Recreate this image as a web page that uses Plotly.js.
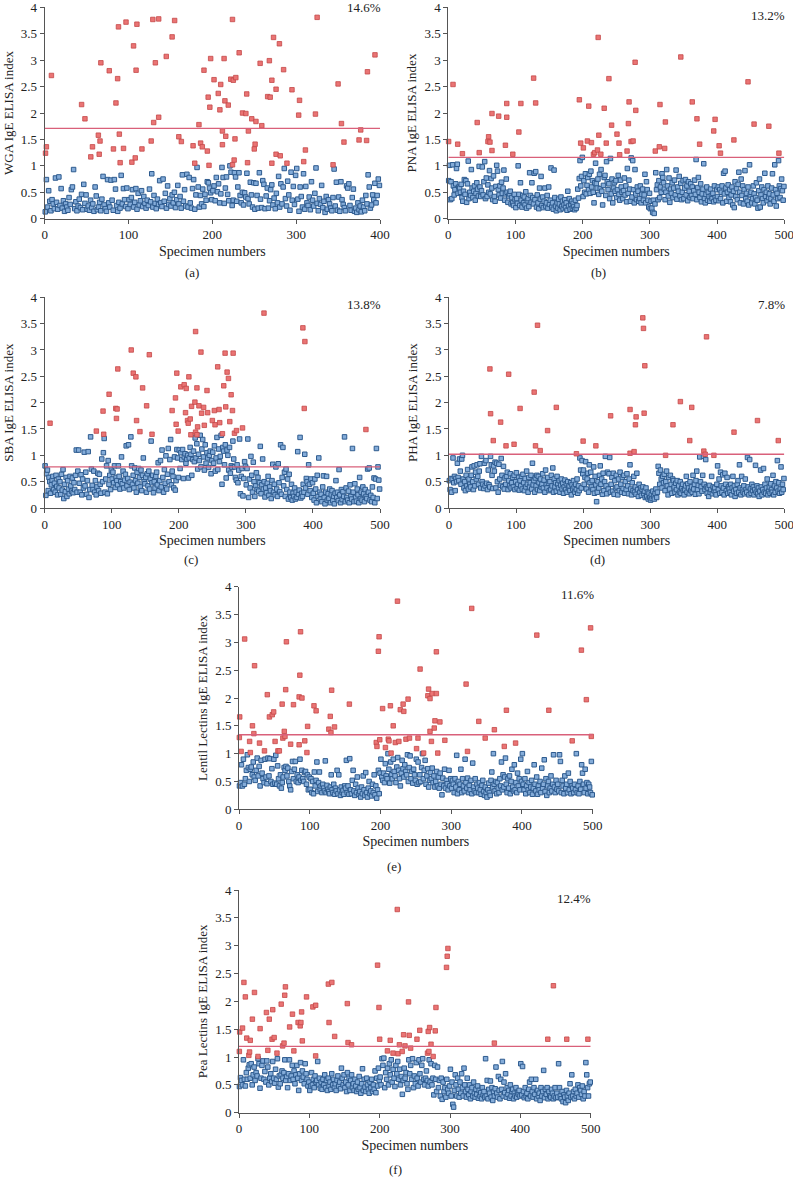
<!DOCTYPE html>
<html>
<head>
<meta charset="utf-8">
<script src="https://cdn.plot.ly/plotly-3.0.1.min.js"></script>
<style>html,body{margin:0;padding:0;background:#fff;}#chart{width:793px;height:1187px;}</style>
</head>
<body>
<div id="chart"></div>
<script>
// ---------------- DATA ----------------
// Thresholds (cut-off lines)
const thresholds = {a:1.71, b:1.16, c:0.78, d:1.02, e:1.34, f:1.19};
const percents = {a:'14.6%', b:'13.2%', c:'13.8%', d:'7.8%', e:'11.6%', f:'12.4%'};
const yTitles = {a:'WGA IgE ELISA index', b:'PNA IgE ELISA index', c:'SBA IgE ELISA index', d:'PHA IgE ELISA index', e:'Lentil Lectins IgE ELISA index', f:'Pea Lectins IgE ELISA index'};
const specimenCount = {a:400, b:500, c:500, d:500, e:500, f:500};
const xTickVals = {a:[0,100,200,300,400], b:[0,100,200,300,400,500], c:[0,100,200,300,400,500], d:[0,100,200,300,400,500], e:[0,100,200,300,400,500], f:[0,100,200,300,400,500]};
const yTickVals = [0,0.5,1,1.5,2,2.5,3,3.5,4];
const yTickText = ['0','0.5','1','1.5','2','2.5','3','3.5','4'];

// Red (high) specimens: specimen numbers and index values
const aRedX = [1,2,8,44,48,55,57,64,65,66,67,77,82,85,87,88,89,90,94,97,104,106,108,109,110,116,127,129,130,132,136,136,145,152,155,160,163,177,179,184,186,188,190,194,195,196,197,198,202,207,209,210,212,212,214,215,216,219,222,224,225,224,226,227,228,232,236,240,241,242,243,247,250,251,252,257,259,266,268,269,271,271,273,276,276,280,281,285,289,295,303,304,309,311,323,325,344,350,354,357,375,377,384,385,394];
const aRedY = [1.24,1.36,2.71,2.16,1.89,1.17,1.36,1.58,1.22,1.47,2.95,2.80,1.32,2.19,2.65,3.63,1.60,1.06,1.33,3.72,1.07,3.27,1.15,2.81,3.68,1.32,1.47,3.77,1.82,2.95,3.78,1.92,3.07,3.44,3.75,1.55,1.46,1.38,1.05,1.78,1.43,1.36,2.81,1.28,2.30,1.01,2.11,3.03,2.63,2.37,2.06,2.54,1.66,1.40,3.03,2.23,1.56,2.15,2.64,3.77,2.62,1.02,1.11,1.51,2.67,3.14,2.00,1.99,2.36,1.06,1.66,1.89,1.32,1.41,1.84,2.94,1.76,2.31,2.99,2.30,2.62,1.05,3.43,1.22,2.45,3.31,1.19,2.82,1.05,2.44,1.96,2.24,1.08,1.30,1.98,3.81,1.02,2.55,1.80,1.45,1.49,1.68,1.48,2.78,3.10];

const bRedX = [0.5,7,14,21,43,46,60,59,62,65,65,75,85,87,87,96,105,108,127,130,195,197,201,207,209,213,216,218,222,223,224,227,232,235,239,243,251,254,255,266,268,269,272,275,279,278,308,314,315,323,322,346,363,370,374,395,397,403,405,425,446,455,477,492];
const bRedY = [1.46,2.54,1.41,1.23,1.82,1.25,1.55,1.46,1.45,1.29,1.99,1.94,1.39,2.18,1.92,1.22,1.64,2.18,2.66,2.19,2.25,1.43,1.34,1.47,2.13,1.44,1.22,1.25,1.30,3.43,1.58,1.22,2.09,1.43,2.65,1.77,1.60,1.43,1.21,1.28,1.80,2.21,1.46,1.47,2.05,2.96,1.28,1.36,2.16,1.83,1.33,3.06,2.21,1.89,1.41,1.66,1.88,1.38,1.24,1.49,2.59,1.79,1.75,1.24];

const cRedX = [8,77,87,88,96,106,107,108,109,129,132,136,137,142,146,152,156,160,190,195,196,197,199,203,208,210,211,213,214,215,217,218,219,224,225,225,227,228,227,230,233,234,237,242,243,238,250,253,254,258,260,261,265,267,269,270,272,274,276,278,280,281,283,286,295,327,385,388,387,479];
const cRedY = [1.61,1.46,1.84,1.40,2.16,1.89,1.70,1.88,2.64,3.00,2.56,2.49,1.66,1.45,2.28,1.94,2.91,1.40,1.85,2.09,1.59,2.56,1.46,2.30,2.34,1.81,2.27,1.66,1.61,2.49,1.69,1.39,1.93,2.01,3.35,1.44,2.28,1.54,1.39,1.94,2.96,1.80,1.91,2.23,1.81,1.57,1.66,1.85,1.58,2.68,1.87,1.62,1.41,2.32,2.94,1.92,2.58,2.46,1.64,2.15,1.85,2.94,1.42,1.47,1.52,3.70,3.42,3.16,1.89,1.49];

const dRedX = [61,62,66,77,85,89,97,106,127,129,132,136,147,160,190,200,219,241,270,270,276,279,278,289,290,291,292,323,334,345,359,362,380,384,382,395,425,460,491];
const dRedY = [2.64,1.79,1.28,1.63,1.18,2.54,1.21,1.89,2.20,1.18,3.47,1.09,1.47,1.91,1.03,1.27,1.18,1.75,1.87,1.04,1.07,1.73,1.58,3.61,3.41,1.80,2.70,1.00,1.58,2.02,1.28,1.91,1.08,3.25,1.02,1.00,1.44,1.66,1.28];

const eRedX = [0.5,1,3,8,15,16,19,21,22,29,36,40,43,47,49,51,55,57,61,62,64,65,66,67,73,77,85,85,86,89,87,93,96,97,106,109,127,129,130,131,135,156,194,195,197,198,199,203,207,211,212,214,215,218,221,224,226,228,232,233,236,239,241,251,253,256,261,267,268,270,270,272,273,276,277,279,279,281,284,291,321,323,329,339,348,361,375,378,391,421,438,471,484,491,497,498];
const eRedY = [1.29,1.66,1.04,3.06,1.22,1.02,1.50,1.36,2.58,1.19,1.05,2.06,1.66,1.70,1.75,1.22,1.05,1.05,1.89,1.28,1.40,1.31,2.15,3.01,1.17,1.88,1.16,2.02,2.41,2.00,3.19,1.23,1.02,1.49,1.86,1.77,1.44,1.67,1.38,2.14,1.48,1.89,1.20,1.13,2.84,3.10,1.25,1.81,1.11,1.26,1.23,1.86,1.01,1.50,1.20,3.74,1.22,1.79,1.89,1.76,1.26,1.98,1.28,1.09,1.28,2.52,1.01,2.04,2.16,1.99,1.40,1.22,2.08,1.46,1.59,2.08,2.83,1.01,1.57,1.24,2.25,1.04,3.61,1.58,1.28,1.43,1.13,1.78,1.19,3.13,1.78,1.23,2.86,1.97,3.26,1.31];

const fRedX = [0.5,1,5,7,9,11,14,15,16,19,22,27,30,39,41,43,47,48,50,54,60,62,64,65,66,72,76,78,84,87,88,89,90,96,105,109,109,127,128,132,136,154,155,160,197,199,200,211,215,219,225,226,228,232,234,236,241,242,244,253,257,268,269,271,270,273,276,279,280,295,296,297,363,439,447,466,496];
const fRedY = [1.10,1.45,1.52,2.34,2.08,1.34,1.03,1.09,1.30,1.68,2.16,1.01,1.51,1.80,1.12,1.68,1.32,1.85,1.35,1.07,1.95,1.20,1.25,2.11,2.26,1.54,1.77,1.11,1.62,1.56,1.62,1.81,1.29,2.08,1.90,1.93,1.02,2.31,1.62,2.34,1.37,1.96,1.26,1.22,2.65,1.89,1.32,1.11,1.30,1.07,3.65,1.06,1.22,1.10,1.40,1.20,1.99,1.39,1.16,1.32,1.48,1.07,1.46,1.53,1.10,1.23,1.01,1.47,1.89,2.61,2.81,2.95,1.25,1.32,2.28,1.32,1.32];

// Blue (low) specimens: values in specimen order, grouped in blocks of 50 specimens
const aBlue = [
 [0.13,0.74,0.22,0.53,0.33,0.15,0.36,0.28,0.19,0.77,0.31,0.18,0.79,0.25,0.57,0.2,0.34,0.14,0.28,0.22,0.16,0.4,0.27,0.55,0.6,0.93,0.19,0.32,0.15,0.24,0.37,0.21,0.46,0.17,0.65,0.29,0.45],
 [0.18,0.24,0.16,0.35,0.21,0.28,0.14,0.6,0.43,0.17,0.22,0.31,0.15,0.37,0.8,0.26,0.19,0.14,0.74,0.3,0.22,0.73,0.35,0.16,0.74,0.56,0.25,0.14,0.31,0.2,0.82,0.28,0.57,0.36,0.23,0.58,0.19],
 [0.36,0.27,0.4,0.55,0.22,0.31,0.57,0.18,0.48,0.26,0.34,0.53,0.23,0.42,0.29,0.2,0.35,0.25,0.56,0.32,0.85,0.22,0.44,0.29,0.19,0.37,0.27,0.72,0.3,0.23,0.75,0.33,0.48,0.2,0.62,0.27,0.38],
 [0.24,0.45,0.3,0.5,0.21,0.36,0.63,0.28,0.42,0.2,0.83,0.33,0.55,0.24,0.84,0.22,0.78,0.3,0.2,0.57,0.74,0.18,0.45,0.97,0.6,0.22,0.44,0.28,0.56,0.23,0.46,0.35,0.7,0.68,0.58,0.49,0.36],
 [0.53,0.62,0.34,0.78,0.51,0.66,0.3,0.47,0.97,0.78,0.29,0.58,0.79,0.46,0.34,1.0,0.88,0.25,0.35,0.87,0.79,0.33,0.6,0.87,0.44,0.3,0.5,0.26,0.49,0.41,0.86,0.38,0.28,0.69,0.45,0.22,0.68],
 [0.18,0.67,0.44,0.2,0.87,0.37,0.21,0.72,0.65,0.19,0.43,0.58,0.2,0.34,0.55,0.64,0.26,0.39,0.19,0.48,0.3,0.8,0.22,0.66,0.28,0.6,0.95,0.38,0.24,0.71,0.45,0.16,0.88,0.35,0.61,0.27,0.82],
 [0.95,0.37,0.14,0.6,0.42,0.22,0.85,0.18,0.61,0.3,0.25,0.41,0.17,0.7,0.35,0.24,0.48,0.96,0.29,0.15,0.38,0.27,0.63,0.21,0.33,0.12,0.42,0.18,0.36,0.28,0.2,0.15,0.4,0.94,0.24,0.69,0.16],
 [0.41,0.14,0.7,0.36,0.27,0.21,0.15,0.62,0.58,0.66,0.25,0.16,0.4,0.56,0.14,0.2,0.12,0.3,0.17,0.24,0.13,0.35,0.22,0.15,0.44,0.28,0.83,0.6,0.2,0.26,0.45,0.36,0.67,0.3,0.44,0.75,0.63]
];
const bBlue = [
 [0.72,1.01,0.36,0.7,0.38,1.02,0.62,0.45,0.55,0.66,0.95,1.03,0.48,0.6,0.58,0.5,0.65,0.4,0.33,0.52,0.74,0.46,0.72,0.31,0.66,1.09,0.38,0.5,0.44,0.93,0.58,0.4,0.52,0.62,0.35,0.48,0.68,0.56,0.43,0.99,0.6,0.42,0.53],
 [0.98,0.45,0.7,1.08,0.38,0.77,0.42,0.64,0.5,0.91,0.47,0.76,0.58,0.36,0.81,0.42,0.33,0.61,1.01,0.9,0.55,0.45,0.62,0.39,0.69,0.48,0.58,0.92,0.35,0.47,0.75,0.5,0.31,0.43,0.47,0.52,0.28,0.4,0.3,0.25,0.46,0.36],
 [0.21,0.38,0.29,1.0,0.46,0.25,0.68,0.35,0.22,0.44,0.3,0.41,0.26,0.51,0.2,0.34,0.38,0.23,0.87,0.44,0.31,0.68,0.4,0.28,0.86,0.36,0.89,0.22,0.45,0.3,0.19,0.58,0.37,0.8,0.25,0.41,0.21,0.33,0.58,0.24,0.3,0.44,0.2,0.6],
 [0.27,0.35,0.96,0.22,0.3,0.18,0.92,0.4,0.24,0.15,0.3,0.2,0.37,0.28,0.17,0.41,0.23,0.33,0.19,0.26,0.36,0.21,0.3,0.16,0.52,0.24,0.38,0.18,0.27,0.33,0.2,0.29,0.23,0.17,0.35,0.2,0.25,0.56,0.39,0.76,1.1,0.62,0.8,1.16],
 [0.42,0.72,0.5,0.85,0.47,0.63,0.78,0.55,0.84,0.48,0.9,0.6,0.72,0.5,0.3,0.68,1.05,0.66,0.58,0.75,0.46,0.84,0.57,0.93,0.52,0.26,0.63,0.78,0.82,0.44,1.08,0.7,0.55,0.66,0.38,1.14,0.47,0.75,0.3,0.58,0.68,0.52,0.72],
 [0.4,0.55,0.82,0.46,0.35,0.73,0.6,0.5,0.38,0.53,0.77,0.45,0.62,0.32,0.95,0.48,0.73,0.56,0.33,1.15,0.41,1.1,0.55,0.3,0.93,0.47,0.36,0.6,0.52,0.33,0.38,0.62,0.3,0.46,0.56,0.35,0.45,0.84,0.3,0.7,0.55,0.35,0.22,0.48],
 [0.19,0.33,0.2,0.12,0.35,0.1,0.28,0.87,0.55,0.64,0.36,0.72,0.4,0.6,0.5,0.85,0.78,0.68,0.56,0.36,0.5,0.93,0.62,0.43,0.77,0.31,0.56,0.48,0.68,0.4,0.58,0.73,0.45,0.92,0.37,0.6,0.52,0.8,0.43,0.67,0.36,0.5,0.72],
 [0.38,0.58,0.74,0.45,0.62,0.34,0.7,0.52,0.4,0.66,0.44,0.6,0.38,0.53,0.73,0.46,1.12,0.36,0.59,0.78,0.5,0.4,0.66,0.32,0.47,0.56,1.04,0.38,0.3,0.46,0.6,0.35,0.5,0.42,0.33,0.56,0.44,0.38,0.48,0.32,0.62,0.4,0.35,0.55],
 [0.42,0.6,0.34,0.55,0.38,0.5,0.62,0.3,0.86,0.47,0.9,0.58,0.33,0.5,0.64,0.4,0.55,0.32,0.45,0.6,0.26,0.52,0.21,0.7,0.42,0.57,0.36,0.65,0.88,0.5,0.3,0.75,0.44,0.62,0.28,0.55,0.91,0.38,0.48,0.33,0.6,0.26,1.02,0.45],
 [0.5,0.3,0.38,0.62,0.47,0.28,0.4,0.68,0.35,0.2,0.53,0.75,0.22,0.45,0.6,0.38,0.3,0.55,0.86,0.42,0.5,0.34,0.62,0.4,0.47,0.28,0.38,0.58,0.85,0.45,0.33,1.02,0.55,0.24,0.48,0.38,1.1,0.62,0.4,0.57,0.75,0.53,0.35,0.61]
];
const cBlue = [
 [0.8,0.24,0.65,0.72,0.33,0.58,0.5,0.28,0.44,0.53,0.6,0.35,0.47,0.3,0.62,0.41,0.25,0.55,0.38,0.5,0.26,0.64,0.34,0.73,0.18,0.45,0.31,0.58,0.22,0.52,0.36,0.27,0.6,0.42,0.32,0.57,0.29,0.48,0.35,0.62,1.1,0.3,0.7],
 [1.1,0.47,0.3,0.63,0.25,0.55,0.38,1.06,0.42,0.68,0.26,0.52,1.07,0.2,0.35,1.35,0.74,0.43,0.35,0.7,0.3,0.52,0.25,0.4,0.66,0.33,0.64,0.45,0.28,0.93,0.5,1.05,1.32,0.3,0.55,0.8,0.27,0.9,0.45,0.62,0.35,0.72],
 [0.55,0.68,0.48,0.8,0.39,0.58,0.52,0.44,0.8,0.6,0.36,0.5,0.97,0.46,0.7,0.38,0.53,0.64,1.18,0.42,0.56,1.2,0.35,0.49,1.35,0.8,0.45,0.62,0.38,0.76,0.52,0.3,0.68,0.47,0.75,0.58,0.4,0.72,0.33,0.62,0.95,0.5,0.46],
 [0.58,0.3,0.65,0.42,0.7,0.36,0.55,1.27,0.48,0.62,0.29,0.5,0.38,0.6,0.68,0.44,0.86,0.33,0.52,0.9,0.4,1.1,0.58,0.3,0.73,0.47,0.99,0.36,0.64,1.13,0.5,0.92,1.3,0.44,0.7,0.6,0.38,0.97,0.34,0.52,1.11,0.95,0.58],
 [1.1,0.75,1.05,0.92,1.11,0.56,0.97,1.03,0.85,0.93,1.0,0.57,0.95,1.15,1.02,0.62,0.92,1.08,0.88,1.33,0.95,1.22,0.74,1.02,0.9,1.38,0.78,1.12,1.3,0.97,0.72,1.2,0.85,1.05,0.95,0.77,1.0,1.08,0.65,0.9],
 [1.06,0.85,1.18,0.7,0.95,1.34,0.73,1.12,0.88,0.98,1.38,0.45,1.15,1.08,0.82,1.2,0.57,1.1,1.0,0.72,1.15,0.66,0.8,0.77,1.27,0.93,0.78,0.58,0.53,0.82,0.48,0.72,1.31,0.27,0.6,0.75,0.23,0.56,0.88,0.79],
 [0.44,0.75,1.31,0.2,0.55,0.38,0.98,0.62,0.3,0.87,0.5,0.22,0.42,0.67,0.35,0.58,0.32,0.48,1.17,0.27,0.44,0.93,0.36,0.5,0.21,0.38,0.29,0.47,0.6,0.24,0.4,0.33,0.18,0.52,0.83,0.3,0.45,0.25,0.78,0.36,0.22,0.84,0.48],
 [0.31,1.2,0.26,0.58,1.15,0.42,0.68,0.22,0.74,0.35,0.55,0.17,0.64,0.3,0.2,0.45,0.15,0.28,0.22,0.38,0.17,0.3,0.2,1.07,0.26,0.34,1.34,0.19,0.28,0.22,0.45,0.3,1.02,0.38,0.56,0.5,0.26,0.82,0.45,0.33,0.55,0.2,0.48],
 [0.28,0.15,0.55,0.36,0.1,0.62,0.22,0.95,0.3,0.17,0.26,0.12,0.4,0.61,0.2,0.08,0.3,0.6,0.15,0.27,0.18,0.36,0.1,0.25,0.33,0.14,0.22,0.08,0.28,0.52,0.2,0.3,0.14,0.73,0.25,0.1,0.35,0.16,0.31,0.22,1.35,0.12,0.38],
 [0.2,0.15,0.32,0.1,0.44,0.22,0.17,1.13,0.3,0.12,0.46,0.2,0.13,0.36,0.25,0.1,0.58,0.18,0.3,0.15,0.4,0.27,0.12,0.35,0.22,0.18,0.74,0.3,0.76,0.15,0.24,0.12,0.4,0.2,0.57,0.1,0.55,1.13,0.18,0.78,0.53,0.36]
];
const dBlue = [
 [0.52,0.35,0.56,0.3,0.55,0.95,0.48,0.6,0.33,0.56,0.5,0.85,0.58,0.52,0.93,0.7,0.45,0.93,1.0,0.55,0.38,0.5,0.33,0.62,0.42,0.73,0.36,0.55,0.45,0.4,0.62,0.78,0.5,0.35,0.8,0.42,0.68,0.55,0.82,0.6,0.45,0.7,0.84,0.38,0.98,0.5],
 [0.45,0.37,0.85,0.42,0.9,0.47,0.35,0.72,0.44,0.4,0.98,0.82,0.62,0.37,0.8,0.7,0.87,0.38,0.85,0.5,0.3,0.83,0.55,0.43,0.94,0.62,0.4,0.79,0.36,0.57,0.45,0.6,0.68,0.35,0.52,0.42,0.65,0.38,0.48,0.58,0.4,0.62,0.35,0.5],
 [0.67,0.38,0.45,0.58,0.34,0.52,0.42,0.6,0.36,0.64,0.48,0.33,0.56,0.4,0.7,0.45,0.3,0.58,0.4,0.48,0.62,0.36,0.85,0.44,0.52,0.3,0.57,0.42,0.62,0.35,0.6,0.48,0.33,0.55,0.4,0.45,0.65,0.38,0.53,0.3,0.72,0.44,0.38,0.58,0.47,0.33],
 [0.5,0.35,0.62,0.42,0.76,0.3,0.55,0.4,0.48,0.32,0.6,0.45,0.38,0.52,0.3,0.43,0.55,0.36,0.47,0.28,0.4,0.53,0.35,0.46,0.3,0.5,0.38,0.42,0.33,0.48,0.25,0.44,0.36,0.52,0.4,0.3,0.45,0.35,0.55,0.28,0.42,0.33,0.95,0.72,0.38,0.9,0.65],
 [0.72,0.45,0.58,0.88,0.36,0.55,0.66,0.3,0.82,0.48,0.68,0.4,0.52,0.35,0.78,0.28,0.6,0.44,0.12,0.3,0.5,0.38,0.62,0.8,0.45,0.55,0.26,0.66,0.33,0.5,0.98,0.42,0.27,0.68,0.36,0.65,0.96,0.3,0.45,0.58,0.32,0.66,0.26,0.52,0.38,0.62],
 [0.4,0.25,0.55,0.33,0.68,0.45,0.3,0.58,0.37,0.62,0.28,0.5,0.35,0.65,0.42,0.27,0.55,0.82,0.36,0.25,0.48,0.33,0.6,0.3,0.4,0.26,0.66,0.35,0.22,0.45,0.3,0.38,0.24,0.35,0.4,0.27,0.32,0.2,0.38,0.22,0.3,0.17,0.28,0.2],
 [0.15,0.25,0.18,0.32,0.22,0.17,0.28,0.36,0.2,0.3,0.79,0.66,0.45,0.72,0.55,0.38,0.6,0.48,0.64,0.33,0.5,0.7,0.42,0.25,0.58,0.36,0.62,0.45,0.28,0.55,0.52,0.4,0.3,0.47,0.35,0.52,0.25,0.42,0.3,0.5,0.28,0.38,0.45,0.33],
 [0.25,0.35,0.42,0.6,0.3,0.46,0.38,0.27,0.5,0.33,0.4,0.3,0.62,0.36,0.45,0.26,0.52,0.7,0.35,0.43,0.27,0.97,0.5,0.4,0.32,0.62,0.98,0.45,0.35,0.92,0.4,0.28,0.38,0.22,0.43,0.3,0.35,0.6,0.27,0.4,0.33,0.38,0.3,0.25,0.45],
 [0.8,0.35,0.55,0.28,0.68,0.42,0.3,0.63,0.38,0.25,0.66,0.45,0.33,0.58,0.28,0.4,0.36,0.3,0.45,0.25,0.38,0.6,0.32,0.42,0.22,0.35,0.28,0.45,0.52,0.3,0.82,0.38,0.25,0.6,0.35,0.3,0.42,0.27,0.55,0.35,0.3,0.96,0.4,0.25,0.92,0.36],
 [0.28,0.45,0.33,0.4,0.25,0.35,0.81,0.3,0.42,0.27,0.38,0.22,0.32,0.72,0.4,0.25,0.35,0.75,0.3,0.45,0.28,0.38,0.55,0.25,0.32,0.4,0.28,0.46,0.35,0.3,0.62,0.25,0.42,0.3,0.5,0.38,0.9,0.32,0.48,0.28,0.36,0.78,0.3,0.45,0.35,0.56]
];
const eBlue = [
 [0.42,0.48,0.8,0.42,0.9,0.45,0.55,0.7,0.98,0.75,0.5,0.72,0.76,0.62,0.85,0.58,0.52,0.7,0.92,0.6,0.77,0.42,0.88,0.65,0.55,0.48,0.9,0.58,0.46,0.92,0.6,0.91,0.5,0.73,0.45,0.9],
 [0.47,0.97,0.45,0.78,0.55,0.42,0.62,0.38,0.48,0.58,0.75,0.7,0.77,0.6,0.74,0.5,0.42,0.35,0.68,0.86,0.55,0.72,0.86,0.5,0.62,0.48,0.58,0.9,0.52,0.7,0.55,0.5,0.66,0.68,0.45,0.62,0.35,0.58],
 [0.36,0.55,0.3,0.5,0.28,0.67,0.42,0.52,0.85,0.32,0.48,0.67,0.35,0.42,0.3,0.45,0.38,0.33,0.87,0.3,0.43,0.36,0.32,0.28,0.4,0.62,0.35,0.3,0.45,0.27,0.38,0.33,0.7,0.28,0.62,0.35,0.25,0.4,0.3,0.34,0.27,0.42],
 [0.38,0.88,0.3,0.42,0.27,0.91,0.35,0.28,0.52,0.7,0.33,0.25,0.45,0.3,0.58,0.38,0.27,0.32,0.22,0.4,0.28,0.6,0.35,0.25,0.66,0.3,0.22,0.38,0.5,0.28,0.33,0.24,0.45,0.3,0.62,0.26,0.42,0.2,0.35,0.7,0.28,0.65],
 [0.9,0.58,0.52,0.65,0.48,0.82,0.6,0.55,1.0,0.72,0.47,0.85,0.62,0.55,0.9,0.68,0.6,0.48,0.76,0.93,0.7,0.55,0.42,0.65,0.88,0.73,0.58,0.8,0.68,0.62,0.98,0.5,0.75,0.96,0.55,0.68,0.47,0.72,0.62,0.52],
 [0.9,0.45,0.85,0.48,0.62,0.5,0.75,1.0,0.55,0.7,0.88,0.45,0.6,0.73,0.4,0.52,0.66,0.55,0.74,0.48,0.6,0.4,0.5,0.68,0.42,0.58,0.38,0.65,0.45,0.26,0.56,0.42,0.72,0.38,0.52,0.46,0.35,0.7,0.42,0.55],
 [0.38,0.52,0.45,0.3,0.55,0.4,0.97,0.28,0.5,0.35,0.45,0.72,0.3,0.55,0.42,0.33,0.9,0.48,0.38,0.56,0.3,0.43,0.35,0.52,0.28,0.83,0.4,0.33,0.55,0.3,0.45,0.38,0.3,0.48,0.35,0.27,0.43,0.52,0.32,0.25,0.4,0.3],
 [0.22,0.35,0.47,0.3,0.25,0.52,0.67,0.4,1.0,0.45,0.33,0.5,0.28,0.48,0.38,0.3,0.55,0.42,0.85,0.35,0.62,0.4,0.58,0.92,0.45,0.3,0.55,0.38,0.6,0.28,0.5,0.72,0.4,0.33,0.8,0.35,0.48,0.3,0.65,0.42,0.55,0.35,0.9,0.5],
 [1.0,0.45,0.35,0.55,0.28,0.42,0.68,0.35,0.48,0.3,0.4,0.52,0.27,0.38,0.8,0.45,0.33,0.58,0.27,0.42,0.35,0.5,0.3,0.74,0.38,0.45,0.89,0.32,0.55,0.25,0.42,0.5,0.3,0.38,0.6,0.33,0.45,0.98,0.4,0.3,0.52,0.36],
 [0.45,0.33,0.98,0.86,0.3,0.52,0.42,0.28,0.6,0.38,0.45,0.3,0.65,0.35,0.5,0.28,0.42,0.38,0.3,0.45,0.35,1.0,0.3,0.42,0.28,0.5,0.36,0.8,0.65,0.45,0.3,0.72,0.38,0.48,0.28,0.45,0.4,0.3,0.86,0.26]
];
const fBlue = [
 [0.47,0.63,0.58,0.5,0.95,0.6,0.48,0.72,0.6,0.8,0.86,0.62,0.88,0.5,0.68,0.82,0.58,0.72,0.66,0.97,0.88,0.44,0.62,0.85,0.93,0.6,0.74,0.55,0.93,0.82,0.5,0.62,0.7,0.56,0.92,0.62],
 [0.53,0.78,0.6,0.97,0.46,0.66,0.52,0.68,0.75,0.62,0.72,0.95,0.58,0.65,0.45,0.7,0.95,0.58,0.66,0.85,0.6,0.75,0.52,0.68,0.85,0.62,0.4,0.7,0.9,0.58,0.75,0.64,0.52,0.88,0.7,0.6,0.48,0.55],
 [0.4,0.48,0.72,0.5,0.6,0.45,0.66,0.55,0.58,0.92,0.5,0.62,0.44,0.55,0.42,0.6,0.5,0.68,0.45,0.58,0.4,0.62,0.48,0.55,0.42,0.7,0.5,0.6,0.45,0.52,0.4,0.58,0.66,0.48,0.55,0.43,0.8,0.62,0.5,0.68],
 [0.45,0.55,0.38,0.72,0.5,0.62,0.4,0.58,0.68,0.45,0.52,0.4,0.6,0.48,0.38,0.55,0.42,0.65,0.45,0.35,0.52,0.79,0.4,0.6,0.46,0.38,0.62,0.5,0.42,0.35,0.55,0.45,0.6,0.38,0.5,0.42,0.75,0.36,0.62,0.48,0.8,0.58],
 [0.64,0.5,0.97,0.85,0.98,0.45,0.72,0.6,0.8,0.5,0.88,0.68,0.95,0.55,0.78,0.62,0.47,0.85,0.7,0.92,0.6,0.78,0.5,0.65,0.33,0.58,0.8,0.62,0.72,0.52,0.42,0.95,0.7,0.85,0.6,0.97,0.45,0.66],
 [0.52,0.9,0.62,0.48,0.95,0.7,0.55,0.85,0.97,0.6,0.5,0.62,0.75,0.58,0.48,0.95,0.55,0.88,0.5,0.62,0.32,0.85,0.6,0.38,0.82,0.45,0.58,0.3,0.62,0.24,0.55,0.38,0.45,0.28,0.6,0.42,0.35,0.48],
 [0.78,0.3,0.55,0.15,0.1,0.4,0.68,0.5,0.3,0.62,0.42,0.28,0.55,0.35,0.7,0.45,0.3,0.8,0.5,0.38,0.28,0.62,0.42,0.32,0.5,0.25,0.38,0.45,0.3,0.55,0.35,0.28,0.42,0.33,0.48,0.26,0.4,0.3,0.36,0.25,0.45,0.32,0.38,0.28],
 [0.97,0.3,0.58,0.25,0.42,0.35,0.57,0.28,0.45,0.22,0.38,0.3,0.43,0.82,0.35,0.28,0.65,0.4,0.25,0.6,0.42,0.92,0.3,0.55,0.36,0.7,0.28,0.45,0.33,0.4,0.26,0.5,0.3,0.38,0.42,0.25,0.35,0.3,0.45,0.28,0.36,0.33,0.4,0.3],
 [0.88,0.32,0.83,0.38,0.27,0.45,0.3,0.35,0.25,0.42,0.55,0.3,0.6,0.38,0.28,0.45,0.33,0.6,0.25,0.4,0.3,0.35,0.22,0.45,0.3,0.38,0.76,0.27,0.42,0.33,0.45,0.25,0.38,0.3,0.28,0.42,0.35,0.25,0.3,0.45],
 [0.27,0.35,0.28,0.88,0.45,0.3,0.25,0.38,0.2,0.32,0.28,0.18,0.4,0.3,0.22,0.35,0.52,0.28,0.68,0.3,0.38,0.25,0.42,0.3,0.35,0.5,0.28,0.45,0.4,0.33,0.48,0.25,0.38,0.3,0.9,0.68,0.45,0.3,0.52,0.55]
];

// ---------------- LAYOUT ----------------
const W = 793, H = 1187;
const fx = p => p / W, fy = p => 1 - p / H;
const FONT = 'Liberation Serif, Times New Roman, serif';
// plot boxes in pixels [left, right, top, bottom]
const boxes = {a:[44.7,380,7.3,218.7], b:[448.3,784.3,7.3,218.7], c:[44.7,380,297.3,508], d:[449,784.3,297.3,508], e:[239,592.7,586.7,809.3], f:[239,590.7,890,1112.7]};
const pctPos = {a:[364,7], b:[768,15], c:[364,305], d:[771,305], e:[577,595], f:[574,898]};
const letterPos = {a:[192,273], b:[598,273], c:[191,560], d:[597,560], e:[394,866], f:[395,1169]};

const panels = [
  {k:'a', redX:aRedX, redY:aRedY, blue:aBlue},
  {k:'b', redX:bRedX, redY:bRedY, blue:bBlue},
  {k:'c', redX:cRedX, redY:cRedY, blue:cBlue},
  {k:'d', redX:dRedX, redY:dRedY, blue:dBlue},
  {k:'e', redX:eRedX, redY:eRedY, blue:eBlue},
  {k:'f', redX:fRedX, redY:fRedY, blue:fBlue}
];

const traces = [];
const layout = {
  width: W, height: H,
  margin: {l:0, r:0, t:0, b:0},
  paper_bgcolor: '#fff', plot_bgcolor: '#fff',
  showlegend: false,
  font: {family: FONT, color: '#222', size: 13},
  shapes: [], annotations: []
};

panels.forEach((p, i) => {
  const n = i + 1;
  const xa = 'x' + (n === 1 ? '' : n), ya = 'y' + (n === 1 ? '' : n);
  const xk = 'xaxis' + (n === 1 ? '' : n), yk = 'yaxis' + (n === 1 ? '' : n);
  const b = boxes[p.k];
  const N = specimenCount[p.k];

  // blue points: each block covers 50 specimens, values in specimen order
  const bx = [], by = [];
  p.blue.forEach((blk, bi) => {
    blk.forEach((v, j) => {
      bx.push(bi * 50 + (j + 0.5) * 50 / blk.length);
      by.push(v);
    });
  });
  traces.push({
    type: 'scatter', mode: 'markers', x: bx, y: by, xaxis: xa, yaxis: ya,
    cliponaxis: false, hoverinfo: 'skip',
    marker: {symbol: 'square', size: 4.5, color: '#84acd9', line: {color: '#2d5a8e', width: 1}}
  });
  traces.push({
    type: 'scatter', mode: 'markers', x: p.redX, y: p.redY, xaxis: xa, yaxis: ya,
    cliponaxis: false, hoverinfo: 'skip',
    marker: {symbol: 'square', size: 4.5, color: '#ea7474', line: {color: '#c44848', width: 0.8}}
  });

  layout[xk] = {
    domain: [fx(b[0]), fx(b[1])], anchor: ya, range: [0, N],
    tickmode: 'array', tickvals: xTickVals[p.k], ticktext: xTickVals[p.k].map(String),
    showline: true, linecolor: '#555', linewidth: 1,
    ticks: 'outside', ticklen: 4, tickcolor: '#555', tickwidth: 1,
    showgrid: false, zeroline: false, ticklabeloverflow: 'allow',
    tickfont: {family: FONT, size: 13, color: '#222'},
    title: {text: 'Specimen numbers', font: {family: FONT, size: 14, color: '#222'}, standoff: 4},
    automargin: false, fixedrange: true
  };
  layout[yk] = {
    domain: [fy(b[3]), fy(b[2])], anchor: xa, range: [0, 4],
    tickmode: 'array', tickvals: yTickVals, ticktext: yTickText,
    showline: true, linecolor: '#555', linewidth: 1,
    ticks: 'outside', ticklen: 4, tickcolor: '#555', tickwidth: 1,
    showgrid: false, zeroline: false, ticklabeloverflow: 'allow',
    tickfont: {family: FONT, size: 13, color: '#222'},
    title: {text: yTitles[p.k], font: {family: FONT, size: 13, color: '#222'}, standoff: 4},
    automargin: false, fixedrange: true
  };
  layout.shapes.push({
    type: 'line', xref: xa, yref: ya, x0: 0, x1: N,
    y0: thresholds[p.k], y1: thresholds[p.k],
    line: {color: '#d9607a', width: 1.3}
  });
  const pp = pctPos[p.k];
  layout.annotations.push({
    xref: 'paper', yref: 'paper', x: fx(pp[0]), y: fy(pp[1]), xanchor: 'center', yanchor: 'middle',
    text: percents[p.k], showarrow: false, font: {family: FONT, size: 13, color: '#222'}
  });
  const lp = letterPos[p.k];
  layout.annotations.push({
    xref: 'paper', yref: 'paper', x: fx(lp[0]), y: fy(lp[1]), xanchor: 'center', yanchor: 'middle',
    text: '(' + p.k + ')', showarrow: false, font: {family: FONT, size: 13, color: '#222'}
  });
});

Plotly.newPlot('chart', traces, layout, {displayModeBar: false, staticPlot: true});
</script>
</body>
</html>
